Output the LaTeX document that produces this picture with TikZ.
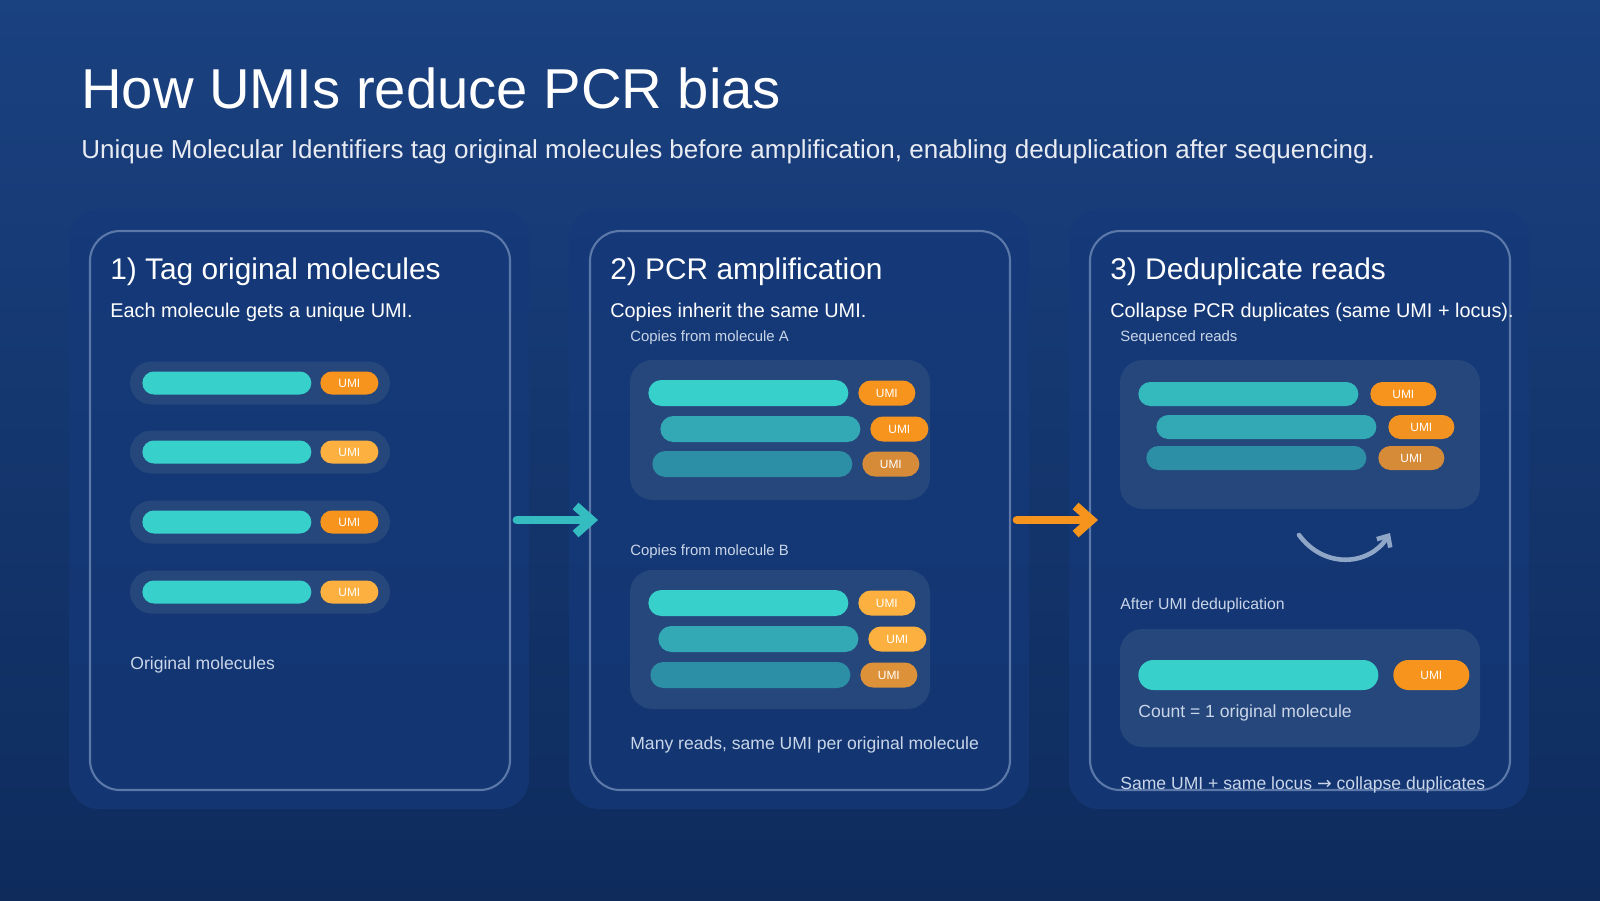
\documentclass[tikz,border=0pt]{standalone}
\usepackage{fontspec}
\setmainfont{Liberation Sans}
\newfontfamily\symfont{DejaVu Sans}
\usepackage{xcolor}
\usepackage{tikz}
\usetikzlibrary{shapes.misc, arrows.meta, positioning}

\definecolor{bgtop}{HTML}{1A4180}
\definecolor{bgbot}{HTML}{0E2B5C}
\definecolor{panelfill}{HTML}{15397A}
\definecolor{panelline}{HTML}{5B78A9}
\definecolor{boxfill}{HTML}{26477C}
\definecolor{tealA}{HTML}{38D0CB}
\definecolor{tealB}{HTML}{32A9B4}
\definecolor{tealC}{HTML}{2C8FA6}
\definecolor{orA}{HTML}{F7941D}
\definecolor{orB}{HTML}{FBB040}
\definecolor{orC}{HTML}{D58B38}
\definecolor{greytext}{HTML}{C9D5E8}
\definecolor{curvecol}{HTML}{8FA6C6}

\newcommand\pill[6]{\node[pill, anchor=west, fill=#6, minimum width=#4*0.02cm, minimum height=#5*0.02cm] (#1) at (#2,#3) {};}
\newcommand\umitag[6]{\node[pill, anchor=west, fill=#6, minimum width=#4*0.02cm, minimum height=#5*0.02cm, text=white, font=\fontsize{6.8}{8}\selectfont] (#1) at (#2,#3) {UMI};}

\begin{document}
\begin{tikzpicture}[
        x=0.02cm, y=-0.02cm,
        pill/.style={rounded rectangle, inner sep=0pt},
        panel/.style={rounded corners=0.6cm, fill=panelfill, opacity=0.7},
        frame/.style={rounded corners=0.6cm, draw=panelline, line width=1.2pt},
        box/.style={rounded corners=0.45cm, fill=boxfill},
        row/.style={rounded corners=0.43cm, fill=boxfill},
        txt/.style={anchor=base west, inner sep=0pt},
        heading/.style={txt, text=white, font=\fontsize{17}{20}\selectfont},
        sub/.style={txt, text=white, font=\fontsize{11.3}{13}\selectfont},
        small/.style={txt, text=greytext, font=\fontsize{8.5}{10}\selectfont},
        note/.style={txt, text=greytext, font=\fontsize{10}{12}\selectfont}
    ]
    % Background
    \fill[top color=bgtop, bottom color=bgbot] (0,0) rectangle (1600,900);
    \useasboundingbox (0,0) rectangle (1600,900);

    % Title
    \node[txt, text=white, font=\fontsize{32}{36}\selectfont] (title) at (81,108) {How UMIs reduce PCR bias};
    \node[txt, text=white!90!bgtop, font=\fontsize{14.8}{17}\selectfont] (subtitle) at (81,158) {Unique Molecular Identifiers tag original molecules before amplification, enabling deduplication after sequencing.};

    % Panels
    \foreach \px in {69, 569, 1069} {
        \fill[panel] (\px,209) rectangle ++(460,600);
        \draw[frame] (\px+21,231) rectangle ++(420,559);
    }

    % Panel 1
    \node[heading] (h1) at (110,279) {1) Tag original molecules};
    \node[sub] (s1) at (110,317) {Each molecule gets a unique UMI.};
    \foreach \i/\yy/\tc in {1/383/orA, 2/452/orB, 3/522/orA, 4/592/orB} {
        \fill[row] (130,\yy-21.5) rectangle (390,\yy+21.5);
        \pill{m\i}{142}{\yy}{169}{23}{tealA}
        \umitag{u\i}{320}{\yy}{58}{23}{\tc}
    }
    \node[note] (orig) at (130,669) {Original molecules};

    % Panel 2
    \node[heading] (h2) at (610,279) {2) PCR amplification};
    \node[sub] (s2) at (610,317) {Copies inherit the same UMI.};
    \node[small] (la) at (630,341) {Copies from molecule A};
    \fill[box] (630,360) rectangle (930,500);
    \pill{a1}{648}{393}{200}{26}{tealA} \umitag{ua1}{858}{393}{57}{25}{orA}
    \pill{a2}{660}{429}{200}{26}{tealB} \umitag{ua2}{870}{429}{58}{25}{orA}
    \pill{a3}{652}{464}{200}{26}{tealC} \umitag{ua3}{862}{464}{57}{25}{orC}
    \node[small] (lb) at (630,555) {Copies from molecule B};
    \fill[box] (630,570) rectangle (930,709);
    \pill{b1}{648}{603}{200}{26}{tealA} \umitag{ub1}{858}{603}{57}{25}{orB}
    \pill{b2}{658}{639}{200}{26}{tealB} \umitag{ub2}{868}{639}{58}{25}{orB}
    \pill{b3}{650}{675}{200}{26}{tealC} \umitag{ub3}{860}{675}{57}{25}{orC!80!orB}
    \node[note] (many) at (630,749) {Many reads, same UMI per original molecule};

    % Panel 3
    \node[heading] (h3) at (1110,279) {3) Deduplicate reads};
    \node[sub] (s3) at (1110,317) {Collapse PCR duplicates (same UMI + locus).};
    \node[small] (lr) at (1120,341) {Sequenced reads};
    \fill[box] (1120,360) rectangle (1480,509);
    \pill{r1}{1138}{394}{220}{24}{tealB!60!tealA} \umitag{ur1}{1370}{394}{66}{24}{orA}
    \pill{r2}{1156}{427}{220}{24}{tealB} \umitag{ur2}{1388}{427}{66}{24}{orA!85!orC}
    \pill{r3}{1146}{458}{220}{24}{tealC} \umitag{ur3}{1378}{458}{66}{24}{orC}
    \coordinate (cs) at (1299,535);
    \coordinate (ce) at (1390,533);
    \draw[curvecol, line width=2.6pt, line cap=round, -{Straight Barb[length=5pt, width=9pt]}]
        (cs) .. controls (1325,570) and (1370,565) .. (ce);
    \node[small, font=\fontsize{9}{11}\selectfont] (la2) at (1120,609) {After UMI deduplication};
    \fill[box] (1120,629) rectangle (1480,747);
    \pill{f1}{1138}{675}{240}{30}{tealA} \umitag{uf1}{1393}{675}{76}{30}{orA}
    \node[note] (count) at (1138,717) {Count = 1 original molecule};
    \node[note] (rule) at (1120,789) {Same UMI + same locus {\symfont →} collapse duplicates};

    % Flow arrows
    \coordinate (p1e) at (517,520);
    \coordinate (p2s) at (598,520);
    \coordinate (p2e) at (1017,520);
    \coordinate (p3s) at (1098,520);
    \draw[tealB!50!tealA, line width=5pt, line cap=round, -{Straight Barb[length=9pt, width=16pt]}] (p1e) -- (p2s);
    \draw[orA, line width=5pt, line cap=round, -{Straight Barb[length=9pt, width=16pt]}] (p2e) -- (p3s);
\end{tikzpicture}
\end{document}
